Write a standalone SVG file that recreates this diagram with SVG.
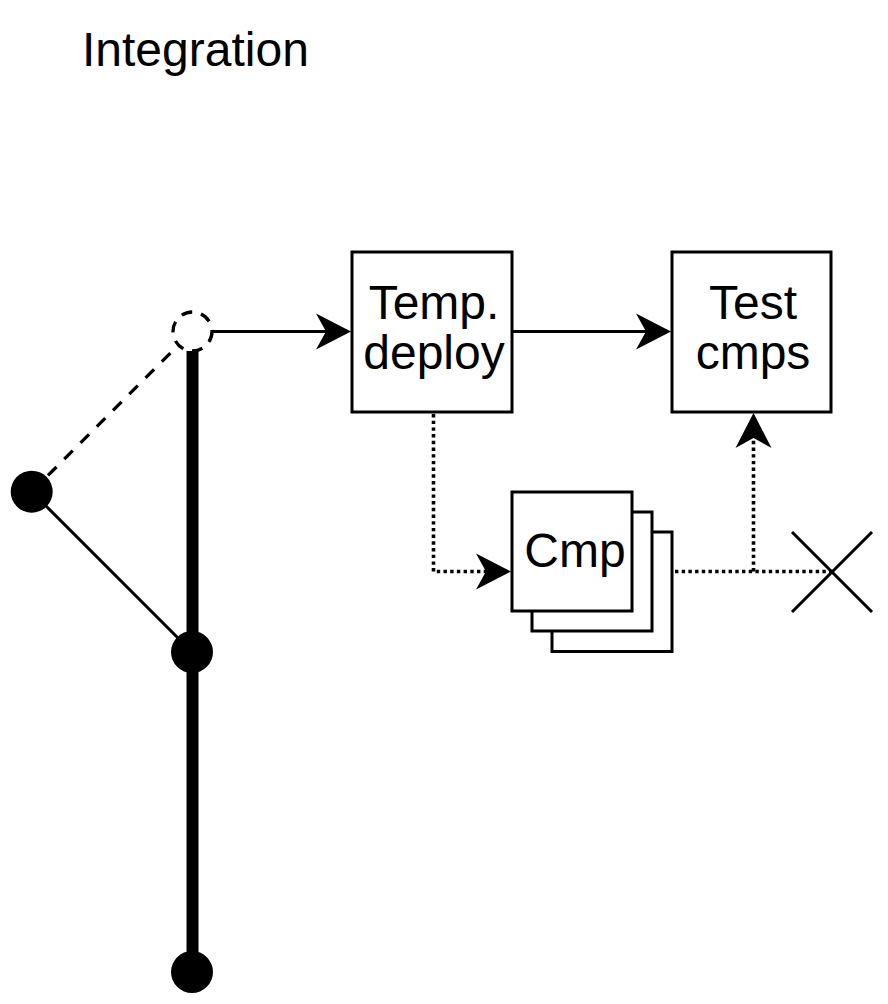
<svg xmlns="http://www.w3.org/2000/svg" width="888" height="1004" viewBox="0 0 888 1004">
<style>
.box{fill:#fff;stroke:#000;stroke-width:3}
.lbl{font-family:"Liberation Sans",Arial,sans-serif;font-size:48px;fill:#000;text-anchor:middle}
.ln{fill:none;stroke:#000;stroke-width:3}
.dot{fill:none;stroke:#000;stroke-width:3.6;stroke-dasharray:3.4 3.3}
.dash{fill:none;stroke:#000;stroke-width:3.3;stroke-dasharray:12 11}
.ah{fill:#000;stroke:none}
.commit{fill:#000}
</style>
<rect width="888" height="1004" fill="#fff"/>
<text id="title" class="lbl" x="82" y="66" style="text-anchor:start">Integration</text>

<g id="branch">
  <line x1="192.5" y1="351" x2="192.5" y2="972" stroke="#000" stroke-width="12"/>
</g>

<g id="connectors">
  <line class="dash" x1="31.7" y1="491.7" x2="178" y2="345.5"/>
  <line class="ln" x1="31.7" y1="491.7" x2="192" y2="652"/>
  <line class="ln" x1="213" y1="331.5" x2="330" y2="331.5"/>
  <path class="ah" d="M351,331.5 L316,313.5 L326,331.5 L316,349.5 Z"/>
  <line class="ln" x1="513" y1="331.5" x2="650" y2="331.5"/>
  <path class="ah" d="M671,331.5 L636,313.5 L646,331.5 L636,349.5 Z"/>
  <polyline class="dot" points="433.5,414 433.5,571.5 488,571.5"/>
  <path class="ah" d="M511,571.5 L476,553.5 L486,571.5 L476,589.5 Z"/>
  <line class="dot" x1="675" y1="571.5" x2="832" y2="571.5"/>
  <line class="dot" x1="753.5" y1="571.5" x2="753.5" y2="440"/>
  <path class="ah" d="M753.5,413 L735.5,448 L753.5,438 L771.5,448 Z"/>
  <line class="ln" x1="792" y1="532" x2="872" y2="612"/>
  <line class="ln" x1="792" y1="612" x2="872" y2="532"/>
</g>

<g id="merge-point">
  <circle cx="192.5" cy="331.5" r="19.5" fill="#fff" stroke="#000" stroke-width="3.3" stroke-dasharray="11 9"/>
</g>
<g id="commit-left"><circle class="commit" cx="31.7" cy="491.7" r="21"/></g>
<g id="commit-mid"><circle class="commit" cx="192" cy="652" r="21"/></g>
<g id="commit-bottom"><circle class="commit" cx="192" cy="972" r="21"/></g>

<g id="temp-deploy">
  <rect class="box" x="352" y="252" width="160" height="160"/>
  <text class="lbl" x="434" y="319">Temp.</text>
  <text class="lbl" x="434" y="369">deploy</text>
</g>
<g id="test-cmps">
  <rect class="box" x="672" y="252" width="159" height="160"/>
  <text class="lbl" x="753" y="319">Test</text>
  <text class="lbl" x="753" y="369">cmps</text>
</g>
<g id="cmp">
  <rect class="box" x="552" y="532" width="120" height="119.5"/>
  <rect class="box" x="532" y="512" width="120" height="119"/>
  <rect class="box" x="512" y="492" width="120" height="119"/>
  <text class="lbl" x="575" y="567">Cmp</text>
</g>
</svg>
